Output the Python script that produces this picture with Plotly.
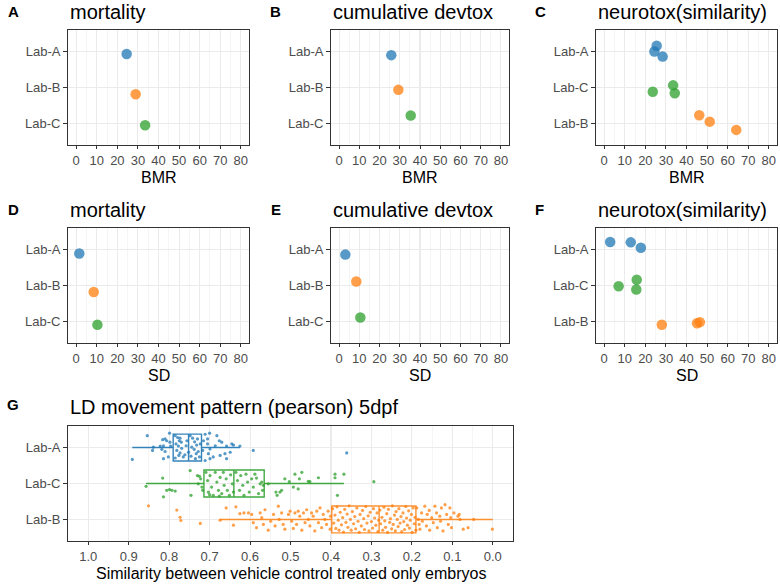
import plotly.graph_objects as go

W, H = 780, 584

# ---------------- data ----------------
lab_colors = {"Lab-A": "rgba(31,119,180,0.75)", "Lab-B": "rgba(255,127,14,0.75)", "Lab-C": "rgba(44,160,44,0.75)"}
box_colors = {"Lab-A": "rgba(31,119,180,0.9)", "Lab-B": "rgba(255,127,14,0.85)", "Lab-C": "rgba(44,160,44,0.9)"}

order_abc = ["Lab-A", "Lab-B", "Lab-C"]
order_acb = ["Lab-A", "Lab-C", "Lab-B"]

# A: mortality BMR
mort_bmr_lab = ["Lab-A", "Lab-B", "Lab-C"]
mort_bmr = [24.5, 28.9, 33.5]
mort_bmr_jit = [0.07, 0.19, 0.05]
# B: cumulative devtox BMR
devtox_bmr_lab = ["Lab-A", "Lab-B", "Lab-C"]
devtox_bmr = [25.8, 29.3, 35.4]
devtox_bmr_jit = [0.10, 0.065, -0.22]
# C: neurotox(similarity) BMR
neuro_bmr_lab = ["Lab-A", "Lab-A", "Lab-A", "Lab-C", "Lab-C", "Lab-C", "Lab-B", "Lab-B", "Lab-B"]
neuro_bmr = [25.5, 24.4, 28.4, 23.6, 33.5, 34.3, 46.2, 51.3, 64.2]
neuro_bmr_jit = [-0.16, 0.0, 0.14, 0.12, -0.06, 0.16, -0.23, -0.05, 0.18]
# D: mortality SD
mort_sd_lab = ["Lab-A", "Lab-B", "Lab-C"]
mort_sd = [1.5, 8.5, 10.3]
mort_sd_jit = [0.11, 0.18, 0.09]
# E: cumulative devtox SD
devtox_sd_lab = ["Lab-A", "Lab-B", "Lab-C"]
devtox_sd = [3.1, 8.5, 10.5]
devtox_sd_jit = [0.14, -0.11, -0.11]
# F: neurotox(similarity) SD
neuro_sd_lab = ["Lab-A", "Lab-A", "Lab-A", "Lab-C", "Lab-C", "Lab-C", "Lab-B", "Lab-B", "Lab-B"]
neuro_sd = [2.9, 12.9, 17.8, 7.0, 15.8, 15.6, 28.0, 45.1, 46.5]
neuro_sd_jit = [-0.21, -0.20, -0.05, 0.02, -0.16, 0.11, 0.09, 0.05, 0.02]

x_ticks_top = [0, 10, 20, 30, 40, 50, 60, 70, 80]

# G: LD movement pattern (pearson) 5dpf
ld_box_lab = ["Lab-A", "Lab-C", "Lab-B"]
ld_q1 = [0.720, 0.565, 0.190]
ld_median = [0.752, 0.640, 0.281]
ld_q3 = [0.790, 0.714, 0.398]
ld_lower = [0.625, 0.368, 0.000]
ld_upper = [0.891, 0.857, 0.674]

ld_A_sim = [0.891, 0.854, 0.841, 0.839, 0.822, 0.818, 0.816, 0.814, 0.810, 0.810, 0.814, 0.806, 0.802, 0.799, 0.798, 0.796,
            0.785, 0.779, 0.773, 0.775, 0.770, 0.783, 0.777, 0.769, 0.781, 0.773, 0.776, 0.785, 0.765, 0.761, 0.748, 0.742,
            0.737, 0.732, 0.744, 0.738, 0.728, 0.733, 0.746, 0.725, 0.735, 0.730, 0.723, 0.756, 0.752, 0.758,
            0.715, 0.711, 0.705, 0.700, 0.705, 0.699, 0.703, 0.699, 0.711, 0.691, 0.717, 0.676, 0.670, 0.674, 0.658, 0.662,
            0.658, 0.645, 0.641, 0.649, 0.625, 0.682, 0.686, 0.592, 0.361]
ld_A_jit = [0.33, -0.33, 0.08, -0.01, -0.04, 0.05, -0.22, -0.05, -0.24, 0.11, 0.31, -0.19, 0.26, -0.40, -0.15, -0.04,
            -0.33, -0.28, -0.26, -0.19, -0.15, -0.10, -0.04, 0.02, 0.08, 0.15, 0.22, 0.29, 0.26, 0.20, -0.33, -0.26,
            -0.16, -0.07, -0.01, 0.05, 0.11, 0.17, 0.24, 0.26, 0.31, -0.24, -0.10, -0.19, 0.13, -0.05,
            -0.19, -0.37, -0.24, -0.40, -0.10, 0.04, 0.17, 0.31, 0.36, 0.26, 0.08, -0.19, -0.15, 0.22, -0.04, 0.17,
            0.31, -0.10, -0.07, 0.13, -0.04, -0.33, -0.05, 0.08, 0.15]

ld_C_sim = [0.857, 0.816, 0.814, 0.806, 0.799, 0.793, 0.785, 0.748, 0.746, 0.730, 0.725, 0.722, 0.719, 0.717, 0.728,
            0.709, 0.705, 0.703, 0.699, 0.695, 0.691, 0.686, 0.682, 0.678, 0.674, 0.670, 0.666, 0.664, 0.659, 0.656,
            0.651, 0.648, 0.644, 0.641, 0.676, 0.700,
            0.635, 0.631, 0.626, 0.623, 0.618, 0.615, 0.610, 0.606, 0.602, 0.596, 0.592, 0.588, 0.584, 0.579, 0.575,
            0.571, 0.569, 0.567,
            0.555, 0.536, 0.533, 0.526, 0.522, 0.514, 0.503, 0.493, 0.489, 0.481, 0.478, 0.472, 0.456, 0.452, 0.431,
            0.390, 0.390, 0.384, 0.368, 0.294]
ld_C_jit = [0.08, -0.15, 0.37, 0.19, 0.17, 0.19, 0.21, -0.36, 0.33, -0.22, -0.20, -0.13, 0.10, 0.19, 0.01,
            -0.31, -0.08, 0.24, -0.22, 0.10, 0.33, -0.31, -0.04, 0.19, -0.17, 0.28, -0.31, 0.05, -0.13, 0.19,
            0.33, -0.24, 0.01, 0.24, 0.35, 0.31,
            -0.31, -0.08, 0.19, -0.22, 0.05, 0.33, -0.26, -0.04, 0.24, -0.13, 0.10, -0.26, -0.15, 0.28, 0.01,
            -0.04, 0.19, 0.05,
            0.01, 0.24, 0.33, 0.24, 0.19, -0.13, -0.05, 0.10, -0.26, 0.15, -0.13, -0.31, -0.06, -0.05, -0.16,
            -0.26, -0.16, 0.33, -0.26, -0.05]

ld_B_sim = [0.851, 0.781, 0.773, 0.771, 0.723, 0.674, 0.659, 0.641, 0.635, 0.625, 0.615, 0.604,
            0.596, 0.592, 0.584, 0.575, 0.571, 0.567, 0.563, 0.555, 0.549, 0.542, 0.538, 0.530, 0.528, 0.522, 0.518,
            0.514, 0.505, 0.501, 0.497, 0.493, 0.489, 0.485, 0.481, 0.477, 0.472, 0.468, 0.464, 0.460, 0.456, 0.452,
            0.448, 0.444, 0.440, 0.435, 0.431, 0.427, 0.423, 0.419, 0.415, 0.411, 0.407, 0.402, 0.401,
            0.396, 0.393, 0.390, 0.388, 0.385, 0.382, 0.380, 0.377, 0.374, 0.371, 0.369, 0.366, 0.363, 0.360, 0.358,
            0.355, 0.352, 0.350, 0.347, 0.344, 0.341, 0.339, 0.336, 0.333, 0.330, 0.328, 0.325, 0.322, 0.319, 0.317,
            0.314, 0.311, 0.308, 0.306, 0.303, 0.300, 0.297, 0.295, 0.292, 0.289, 0.286, 0.284, 0.282,
            0.279, 0.277, 0.274, 0.272, 0.269, 0.267, 0.265, 0.262, 0.260, 0.258, 0.255, 0.253, 0.250, 0.248, 0.246,
            0.243, 0.241, 0.239, 0.236, 0.234, 0.232, 0.229, 0.227, 0.225, 0.222, 0.220, 0.218, 0.215, 0.213, 0.211,
            0.208, 0.206, 0.204, 0.201, 0.199, 0.197, 0.194, 0.192, 0.190,
            0.188, 0.184, 0.182, 0.180, 0.176, 0.174, 0.168, 0.164, 0.162, 0.157, 0.156, 0.151, 0.147, 0.143, 0.139,
            0.137, 0.131, 0.129, 0.127, 0.123, 0.118, 0.114, 0.110, 0.106, 0.104, 0.102, 0.096, 0.086, 0.083, 0.081,
            0.073, 0.061, 0.047, 0.001]
ld_B_jit = [-0.38, -0.26, -0.06, 0.03, 0.11, 0.02, -0.32, 0.16, -0.35, -0.16, -0.18, -0.18,
            -0.14, 0.09, 0.23, -0.18, -0.05, 0.14, -0.27, 0.30, 0.05, -0.14, 0.18, -0.37, 0.00, -0.18, 0.14,
            0.27, -0.14, -0.23, 0.05, 0.25, -0.18, 0.14, -0.23, -0.09, 0.30, -0.18, 0.09, -0.27, 0.00, 0.18,
            -0.18, -0.09, 0.32, -0.23, 0.09, -0.32, 0.23, -0.14, 0.00, 0.14, -0.23, 0.27, -0.09,
            -0.30, 0.10, -0.12, 0.25, -0.35, 0.02, 0.30, -0.20, 0.15, -0.05, 0.35, -0.28, 0.08, -0.15, 0.22,
            -0.38, 0.00, 0.30, -0.22, 0.12, -0.08, 0.26, -0.32, 0.05, 0.36, -0.14, 0.18, -0.25, -0.02, 0.28,
            -0.36, 0.10, -0.10, 0.32, -0.20, 0.06, 0.24, -0.30, -0.04, 0.16, -0.18, 0.34, 0.02,
            -0.26, 0.12, -0.06, 0.30, -0.34, 0.04, 0.22, -0.16, 0.36, -0.28, 0.08, -0.02, 0.26, -0.38, 0.14,
            -0.12, 0.32, -0.22, 0.00, 0.20, -0.30, 0.10, -0.08, 0.34, -0.18, 0.06, 0.28, -0.36, -0.04, 0.16,
            -0.24, 0.24, 0.02, -0.14, 0.36, -0.32, 0.12, -0.06, 0.30,
            -0.32, 0.00, 0.14, 0.27, -0.18, 0.05, -0.37, 0.18, -0.14, -0.25, 0.30, -0.05, 0.09, -0.37, -0.18,
            0.23, -0.09, 0.05, -0.32, 0.32, -0.41, -0.14, 0.14, -0.32, -0.05, 0.23, -0.18, -0.09, -0.14, 0.00,
            0.27, 0.23, 0.00, 0.27]

ld_ticks = [0.0, 0.1, 0.2, 0.3, 0.4, 0.5, 0.6, 0.7, 0.8, 0.9, 1.0]

# ---------------- layout helpers ----------------
FONT = "Liberation Sans, Arial, Helvetica, sans-serif"
GRID = "#EBEBEB"
BORDER = "#333333"

panels = {
    # name: (x0, x1, y0, y1) in pixels
    "A": (68, 249, 30, 145),
    "B": (331, 509, 30, 145),
    "C": (596, 777, 30, 145),
    "D": (68, 249, 228, 343),
    "E": (331, 509, 228, 343),
    "F": (596, 777, 228, 343),
    "G": (68, 513, 426, 541),
}

fig = go.Figure()
layout = dict(width=W, height=H, margin=dict(l=0, r=0, t=0, b=0),
              paper_bgcolor="white", plot_bgcolor="white", showlegend=False,
              font=dict(family=FONT))
annotations = []


def axis_ids(i):
    return ("x" if i == 1 else f"x{i}"), ("y" if i == 1 else f"y{i}")


def ytick_axis(dom, order, anchor):
    return dict(domain=dom, range=[3.6, 0.4], tickvals=[1, 2, 3], ticktext=order,
                showgrid=True, gridcolor=GRID, gridwidth=1.1, zeroline=False,
                showline=True, linecolor=BORDER, linewidth=1, mirror=True,
                ticks="outside", ticklen=4, tickcolor=BORDER, tickwidth=1,
                tickfont=dict(family=FONT, size=13, color="#4D4D4D"), anchor=anchor, fixedrange=True)


def xnum_axis(dom, rng, tickvals, minor_dtick, anchor, fmt=None):
    d = dict(domain=dom, range=rng, tickvals=tickvals,
             showgrid=True, gridcolor=GRID, gridwidth=1.1, zeroline=False,
             minor=dict(dtick=minor_dtick, tick0=0, showgrid=True, gridcolor="#F1F1F1", gridwidth=0.7, ticks=""),
             showline=True, linecolor=BORDER, linewidth=1, mirror=True,
             ticks="outside", ticklen=3, tickcolor=BORDER, tickwidth=1,
             tickfont=dict(family=FONT, size=13, color="#4D4D4D"), anchor=anchor, fixedrange=True)
    if fmt:
        d["tickformat"] = fmt
    return d


def dom_of(p):
    x0, x1, y0, y1 = panels[p]
    return [x0 / W, x1 / W], [1 - y1 / H, 1 - y0 / H]


top_panels = [
    ("A", "mortality", "BMR", mort_bmr_lab, mort_bmr, mort_bmr_jit, order_abc),
    ("B", "cumulative devtox", "BMR", devtox_bmr_lab, devtox_bmr, devtox_bmr_jit, order_abc),
    ("C", "neurotox(similarity)", "BMR", neuro_bmr_lab, neuro_bmr, neuro_bmr_jit, order_acb),
    ("D", "mortality", "SD", mort_sd_lab, mort_sd, mort_sd_jit, order_abc),
    ("E", "cumulative devtox", "SD", devtox_sd_lab, devtox_sd, devtox_sd_jit, order_abc),
    ("F", "neurotox(similarity)", "SD", neuro_sd_lab, neuro_sd, neuro_sd_jit, order_acb),
]

tag_x = {"A": 6, "B": 268, "C": 533, "D": 6, "E": 269, "F": 533, "G": 5}

for i, (p, title, xlab, labs, vals, jits, order) in enumerate(top_panels, start=1):
    xa, ya = axis_ids(i)
    xd, yd = dom_of(p)
    layout["xaxis" if i == 1 else f"xaxis{i}"] = xnum_axis(xd, [-4, 84], x_ticks_top, 5, ya)
    layout["yaxis" if i == 1 else f"yaxis{i}"] = ytick_axis(yd, order, xa)
    ypos = [order.index(l) + 1 + j for l, j in zip(labs, jits)]
    fig.add_trace(go.Scatter(x=vals, y=ypos, mode="markers", xaxis=xa, yaxis=ya,
                             marker=dict(size=10.5, color=[lab_colors[l] for l in labs], line=dict(width=0)),
                             hoverinfo="skip"))
    x0, x1, y0, y1 = panels[p]
    # title
    annotations.append(dict(text=title, x=x0 / W, y=1 - (y0 - 18) / H, xref="paper", yref="paper",
                            xanchor="left", yanchor="middle", showarrow=False,
                            font=dict(family=FONT, size=20, color="black")))
    # tag
    annotations.append(dict(text=f"<b>{p}</b>", x=tag_x[p] / W, y=1 - (y0 - 19) / H, xref="paper", yref="paper",
                            xanchor="left", yanchor="middle", showarrow=False,
                            font=dict(family=FONT, size=15, color="black")))
    # x axis title
    annotations.append(dict(text=xlab, x=(x0 + x1) / 2 / W, y=1 - (y1 + 32) / H, xref="paper", yref="paper",
                            xanchor="center", yanchor="middle", showarrow=False,
                            font=dict(family=FONT, size=16, color="black")))

# G panel
gi = 7
xa, ya = axis_ids(gi)
xd, yd = dom_of("G")
layout[f"xaxis{gi}"] = xnum_axis(xd, [1.05, -0.05], ld_ticks, 0.05, ya, fmt=".1f")
layout[f"yaxis{gi}"] = ytick_axis(yd, ld_box_lab, xa)

for k, lab in enumerate(ld_box_lab):
    fig.add_trace(go.Box(orientation="h", y=[k + 1], q1=[ld_q1[k]], median=[ld_median[k]], q3=[ld_q3[k]],
                         lowerfence=[ld_lower[k]], upperfence=[ld_upper[k]], width=0.75, whiskerwidth=0,
                         boxpoints=False, fillcolor="rgba(255,255,255,0)",
                         line=dict(color=box_colors[lab], width=1.4), xaxis=xa, yaxis=ya, hoverinfo="skip"))

for lab, sims, jits in [("Lab-A", ld_A_sim, ld_A_jit), ("Lab-C", ld_C_sim, ld_C_jit), ("Lab-B", ld_B_sim, ld_B_jit)]:
    base = ld_box_lab.index(lab) + 1
    fig.add_trace(go.Scatter(x=sims, y=[base + j for j in jits], mode="markers", xaxis=xa, yaxis=ya,
                             marker=dict(size=3.2, color=lab_colors[lab], line=dict(width=0)), hoverinfo="skip"))

x0, x1, y0, y1 = panels["G"]
annotations.append(dict(text="LD movement pattern (pearson) 5dpf", x=x0 / W, y=1 - (y0 - 19) / H,
                        xref="paper", yref="paper", xanchor="left", yanchor="middle", showarrow=False,
                        font=dict(family=FONT, size=20, color="black")))
annotations.append(dict(text="<b>G</b>", x=tag_x["G"] / W, y=1 - (y0 - 22) / H, xref="paper", yref="paper",
                        xanchor="left", yanchor="middle", showarrow=False,
                        font=dict(family=FONT, size=15, color="black")))
annotations.append(dict(text="Similarity between vehicle control treated only embryos", x=(x0 + x1) / 2 / W,
                        y=1 - (y1 + 32) / H, xref="paper", yref="paper", xanchor="center", yanchor="middle",
                        showarrow=False, font=dict(family=FONT, size=16, color="black")))

layout["annotations"] = annotations
fig.update_layout(**layout)
fig.write_html("out.html", config={"displayModeBar": False, "staticPlot": True},
               post_script="document.body.style.margin='0';document.body.style.padding='0';document.body.style.overflow='hidden';")
